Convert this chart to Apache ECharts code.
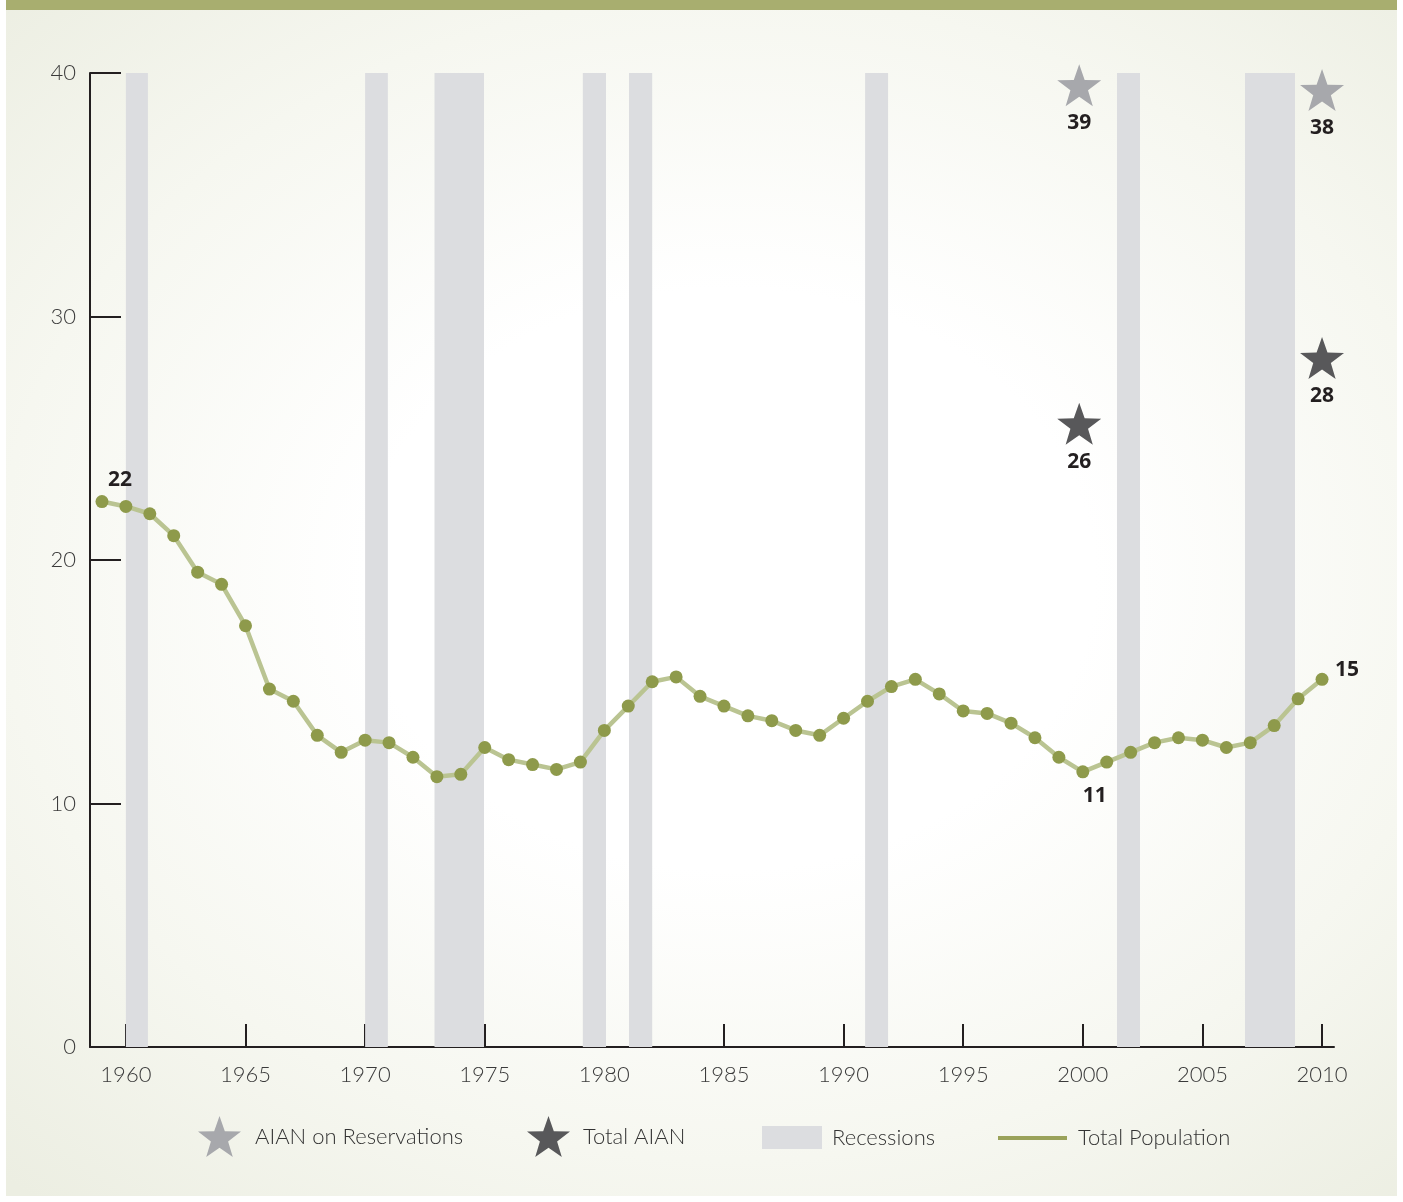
<!DOCTYPE html>
<html>
<head>
<meta charset="utf-8">
<script src="https://cdn.jsdelivr.net/npm/echarts@6/dist/echarts.min.js"></script>
<style>
  html, body { margin: 0; padding: 0; background: #ffffff; }
  #panel {
    position: absolute; left: 6px; top: 0; width: 1391px; height: 1186px;
    border-top: 10px solid #a8ae6f;
    background: radial-gradient(ellipse 75% 70% at 52% 48%, #ffffff 35%, #f6f7f0 70%, #eceee2 100%);
  }
  #chart { position: absolute; left: 0; top: 0; width: 1403px; height: 1202px; }
</style>
</head>
<body>
<div id="panel"></div>
<div id="chart"></div>
<script>
// ---- data ----
const years = [1959,1960,1961,1962,1963,1964,1965,1966,1967,1968,1969,1970,1971,1972,1973,1974,1975,1976,1977,1978,1979,1980,1981,1982,1983,1984,1985,1986,1987,1988,1989,1990,1991,1992,1993,1994,1995,1996,1997,1998,1999,2000,2001,2002,2003,2004,2005,2006,2007,2008,2009,2010];
const totalPopulation = [22.4,22.2,21.9,21.0,19.5,19.0,17.3,14.7,14.2,12.8,12.1,12.6,12.5,11.9,11.1,11.2,12.3,11.8,11.6,11.4,11.7,13.0,14.0,15.0,15.2,14.4,14.0,13.6,13.4,13.0,12.8,13.5,14.2,14.8,15.1,14.5,13.8,13.7,13.3,12.7,11.9,11.3,11.7,12.1,12.5,12.7,12.6,12.3,12.5,13.2,14.3,15.1];
const labeledYears = [1959, 2000, 2010];

const recessionStarts = [1960.0, 1970.0, 1972.9, 1979.1, 1981.03, 1990.9, 2001.43, 2006.78];
const recessionEnds   = [1960.92, 1970.95, 1974.97, 1980.07, 1982.0, 1991.86, 2002.39, 2008.87];

const aianResYears  = [1999.85, 2010];
const aianResPlotY  = [39.5, 39.3];
const aianResLabels = ['39', '38'];

const aianTotalYears  = [1999.85, 2010];
const aianTotalPlotY  = [25.6, 28.3];
const aianTotalLabels = ['26', '28'];

const xTickLabels = [1960, 1965, 1970, 1975, 1980, 1985, 1990, 1995, 2000, 2005, 2010];

// ---- helpers ----
function starPath() {
  const pts = [];
  for (let i = 0; i < 10; i++) {
    const r = i % 2 === 0 ? 50 : 20;
    const a = -Math.PI / 2 + i * Math.PI / 5;
    pts.push((50 + r * Math.cos(a)).toFixed(2) + ',' + (50 + r * Math.sin(a)).toFixed(2));
  }
  return 'path://M' + pts.join('L') + 'Z';
}
const STAR = starPath();

const labelFont = { fontFamily: '"Open Sans", sans-serif', fontWeight: 'bold', fontSize: 21, color: '#231f20', opacity: 1 };
const axisFont = { fontFamily: 'Lato, "Open Sans", sans-serif', fontWeight: 300, fontSize: 22, color: '#3a3a3a' };
const legendText = { fontFamily: 'Lato, "Open Sans", sans-serif', fontWeight: 300, fontSize: 22, color: '#333' };

const labelOffsets = { 1959: [18, -22], 2000: [12, 24], 2010: [25, -9] };
const lineData = years.map((y, i) => {
  const item = { value: [y, totalPopulation[i]] };
  if (labeledYears.includes(y)) {
    item.label = {
      show: true, position: 'inside', offset: labelOffsets[y],
      formatter: p => String(Math.round(p.value[1])),
      ...labelFont
    };
  }
  return item;
});

const recessionAreas = recessionStarts.map((s, i) => [{ xAxis: s }, { xAxis: recessionEnds[i] }]);

const starLabel = {
  show: true, position: 'inside', offset: [0, 38],
  formatter: p => p.value[2], ...labelFont
};

const chart = echarts.init(document.getElementById('chart'), null, { renderer: 'canvas' });
chart.setOption({
  backgroundColor: 'transparent',
  animation: false,
  grid: { left: 90, right: 69, top: 73, bottom: 155 },
  xAxis: {
    type: 'value', min: 1958.5, max: 2010.5,
    splitLine: { show: false },
    axisLine: { show: true, lineStyle: { color: '#231f20', width: 2 } },
    axisTick: { show: true, inside: true, length: 23, customValues: xTickLabels, lineStyle: { color: '#231f20', width: 2 } },
    axisLabel: { customValues: xTickLabels, margin: 17, formatter: v => String(v), ...axisFont }
  },
  yAxis: {
    type: 'value', min: 0, max: 40, interval: 10,
    splitLine: { show: false },
    axisLine: { show: true, lineStyle: { color: '#231f20', width: 2 } },
    axisTick: { show: true, inside: true, length: 31, lineStyle: { color: '#231f20', width: 2 } },
    axisLabel: { margin: 14, ...axisFont }
  },
  legend: [
    { data: [{ name: 'AIAN on Reservations', icon: STAR }], left: 198, top: 1116, padding: 0, itemWidth: 43, itemHeight: 41,
      textStyle: { ...legendText, padding: [0, 0, 0, 9] }, selectedMode: false },
    { data: [{ name: 'Total AIAN', icon: STAR }], left: 527, top: 1116, padding: 0, itemWidth: 43, itemHeight: 41,
      textStyle: { ...legendText, padding: [0, 0, 0, 8] }, selectedMode: false },
    { data: [{ name: 'Recessions', icon: 'rect' }], left: 762, top: 1126, padding: 0, itemWidth: 60, itemHeight: 23,
      textStyle: { ...legendText, padding: [0, 0, 0, 5] }, selectedMode: false },
    { data: [{ name: 'Total Population', icon: 'rect', itemStyle: { color: '#9aa25a' } }], left: 998, top: 1127, padding: 0, itemWidth: 69, itemHeight: 4,
      textStyle: { ...legendText, padding: [0, 0, 0, 6] }, selectedMode: false }
  ],
  series: [
    {
      name: 'Recessions', type: 'line', data: [], z: 1, silent: true,
      itemStyle: { color: '#dcdde0' }, lineStyle: { color: '#dcdde0' },
      markArea: { silent: true, itemStyle: { color: '#dcdde0', opacity: 1 }, data: recessionAreas }
    },
    {
      name: 'Total Population', type: 'line', z: 3, data: lineData,
      symbol: 'circle', symbolSize: 13, showSymbol: true,
      lineStyle: { color: '#bac492', width: 4.5 },
      itemStyle: { color: '#8e9a4b' }
    },
    {
      name: 'AIAN on Reservations', type: 'scatter', z: 4, symbol: STAR, symbolSize: [44, 42],
      itemStyle: { color: '#a7a8ac', opacity: 1 },
      data: aianResYears.map((y, i) => [y, aianResPlotY[i], aianResLabels[i]]),
      label: starLabel
    },
    {
      name: 'Total AIAN', type: 'scatter', z: 4, symbol: STAR, symbolSize: [44, 42],
      itemStyle: { color: '#58585a', opacity: 1 },
      data: aianTotalYears.map((y, i) => [y, aianTotalPlotY[i], aianTotalLabels[i]]),
      label: starLabel
    }
  ]
});
</script>
</body>
</html>
